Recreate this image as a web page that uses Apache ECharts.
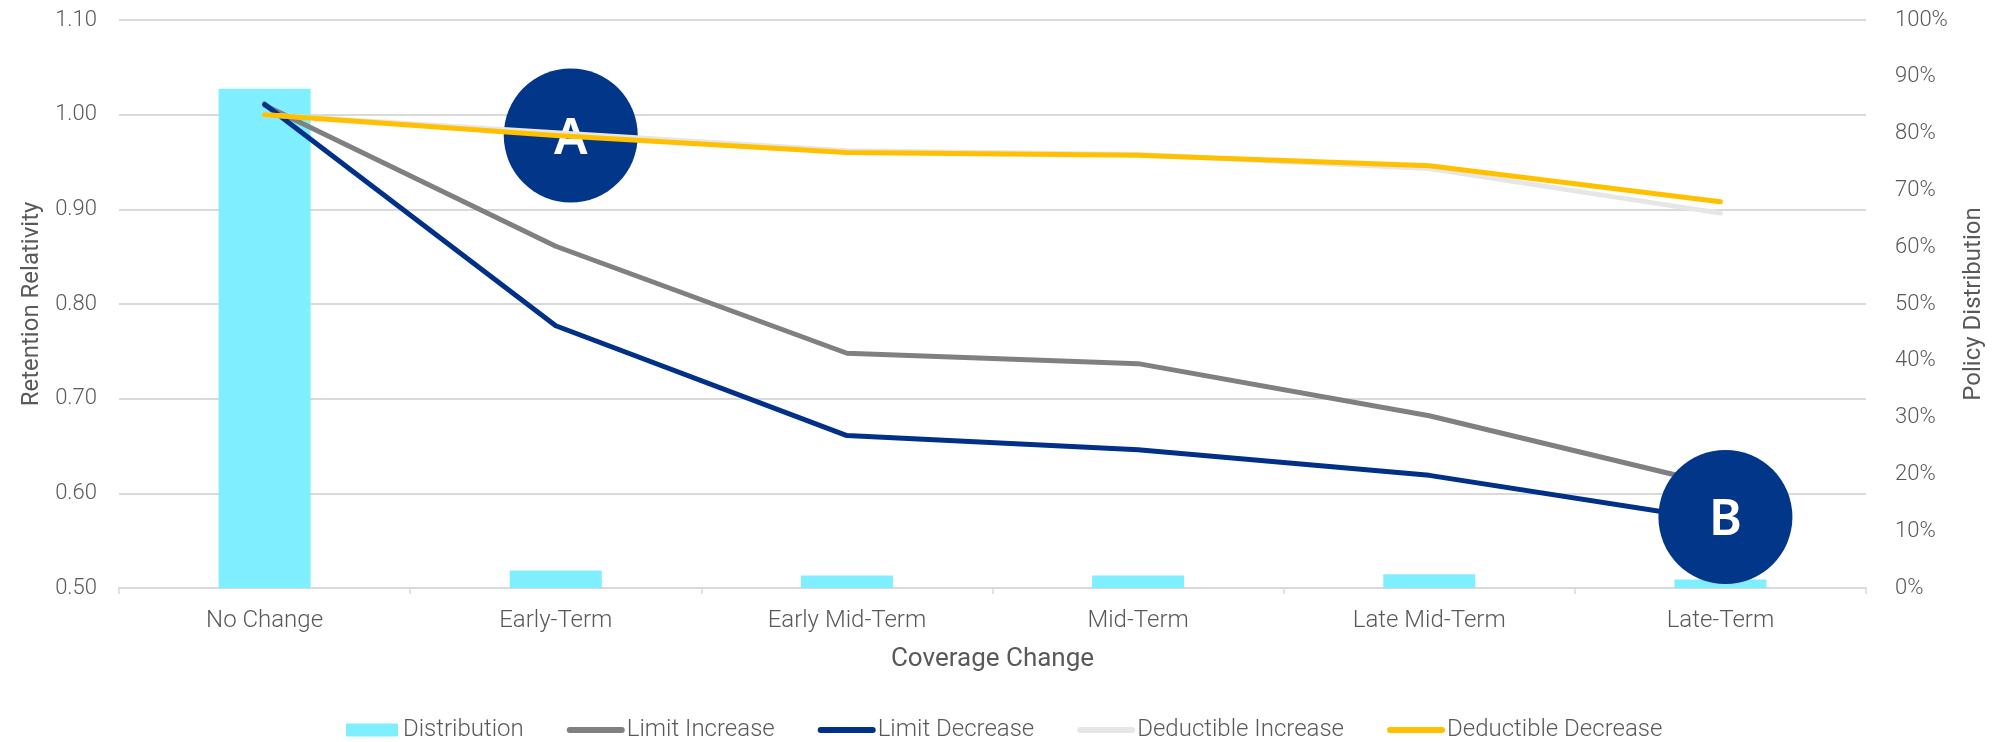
<!DOCTYPE html>
<html>
<head>
<meta charset="utf-8">
<script src="https://cdn.jsdelivr.net/npm/echarts@6/dist/echarts.min.js"></script>
<style>
  html, body { margin: 0; padding: 0; background: #fff; }
  #chart { width: 1997px; height: 742px; }
</style>
</head>
<body>
<div id="chart"></div>
<script>
// categories + series values
const categories = ['No Change', 'Early-Term', 'Early Mid-Term', 'Mid-Term', 'Late Mid-Term', 'Late-Term'];
const distribution = [87.9, 3.1, 2.2, 2.2, 2.4, 1.5];          // % (right axis)
const limitIncrease = [1.010, 0.861, 0.748, 0.737, 0.682, 0.608];
const limitDecrease = [1.011, 0.777, 0.661, 0.646, 0.619, 0.571];
const deductibleIncrease = [1.000, 0.981, 0.962, 0.958, 0.943, 0.896];
const deductibleDecrease = [1.000, 0.978, 0.960, 0.957, 0.946, 0.908];
// callout circles: [label, category, retention value]
const annotations = [['A', 'Early-Term', 0.978], ['B', 'Late-Term', 0.575]];

const FONT = 'Roboto';
const TEXT = '#595959';
const NAVY = '#023689';

const chart = echarts.init(document.getElementById('chart'), null, { renderer: 'canvas' });

const lineSeries = (name, data, color, z) => ({
    name,
    type: 'line',
    yAxisIndex: 0,
    data,
    symbol: 'none',
    z,
    lineStyle: { color, width: 5, cap: 'round', join: 'round' },
    itemStyle: { color },
});

// legend: plain rect for the bars, bare rounded line (no dot) for the rest
const lineLegend = (name) => ({
    name,
    itemStyle: { opacity: 0, borderWidth: 0 },
    lineStyle: { width: 6, cap: 'round' },
});

const option = {
    animation: false,
    backgroundColor: '#fff',
    textStyle: { fontFamily: FONT },
    grid: { left: 119, right: 131, top: 20, bottom: 154 },
    legend: {
        left: 341,
        top: 713,
        itemGap: 43,
        itemWidth: 52,
        itemHeight: 13,
        textStyle: { color: TEXT, fontSize: 24, fontWeight: 300, fontFamily: FONT },
        data: [
            { name: 'Distribution', icon: 'rect' },
            lineLegend('Limit Increase'),
            lineLegend('Limit Decrease'),
            lineLegend('Deductible Increase'),
            lineLegend('Deductible Decrease'),
        ],
    },
    xAxis: {
        type: 'category',
        data: categories,
        name: 'Coverage Change',
        nameLocation: 'middle',
        nameGap: 58,
        nameTextStyle: { color: TEXT, fontSize: 26, fontFamily: FONT },
        axisLine: { lineStyle: { color: '#d9d9d9', width: 2 } },
        axisTick: { show: true, length: 6, lineStyle: { color: '#d9d9d9', width: 1.5 } },
        axisLabel: { color: TEXT, fontSize: 24, fontWeight: 300, margin: 21 },
    },
    yAxis: [
        {
            type: 'value',
            min: 0.5,
            max: 1.1,
            interval: 0.1,
            name: 'Retention Relativity',
            nameLocation: 'middle',
            nameRotate: 90,
            nameGap: 74,
            nameTextStyle: { color: TEXT, fontSize: 24, fontFamily: FONT },
            axisLine: { show: false },
            axisTick: { show: false },
            axisLabel: { color: TEXT, fontSize: 22, fontWeight: 300, margin: 22, formatter: (v) => v.toFixed(2) },
            splitLine: { lineStyle: { color: '#d9d9d9', width: 2 } },
        },
        {
            type: 'value',
            min: 0,
            max: 100,
            interval: 10,
            name: 'Policy Distribution',
            nameLocation: 'middle',
            nameRotate: 90,
            nameGap: 96,
            nameTextStyle: { color: TEXT, fontSize: 24, fontFamily: FONT },
            axisLine: { show: false },
            axisTick: { show: false },
            axisLabel: { color: TEXT, fontSize: 22, fontWeight: 300, margin: 29, formatter: '{value}%' },
            splitLine: { show: false },
        },
    ],
    series: [
        {
            name: 'Distribution',
            type: 'bar',
            yAxisIndex: 1,
            data: distribution,
            barWidth: 92,
            itemStyle: { color: '#7FEFFF' },
            z: 1,
        },
        lineSeries('Limit Increase', limitIncrease, '#808080', 3),
        lineSeries('Limit Decrease', limitDecrease, '#003087', 4),
        lineSeries('Deductible Increase', deductibleIncrease, '#E6E6E6', 5),
        {
            ...lineSeries('Deductible Decrease', deductibleDecrease, '#FFC000', 6),
            markPoint: {
                symbol: 'circle',
                symbolSize: 134,
                itemStyle: { color: NAVY },
                label: {
                    show: true,
                    color: '#fff',
                    fontSize: 50,
                    fontWeight: 600,
                    fontFamily: 'Noto Sans',
                    offset: [0, 4],
                    formatter: (p) => p.name,
                },
                data: annotations.map(([label, cat, val], i) => ({
                    name: label,
                    coord: [cat, val],
                    symbolOffset: [i === 0 ? 15 : 5, 0],
                })),
            },
        },
    ],
};

chart.setOption(option);
</script>
</body>
</html>
